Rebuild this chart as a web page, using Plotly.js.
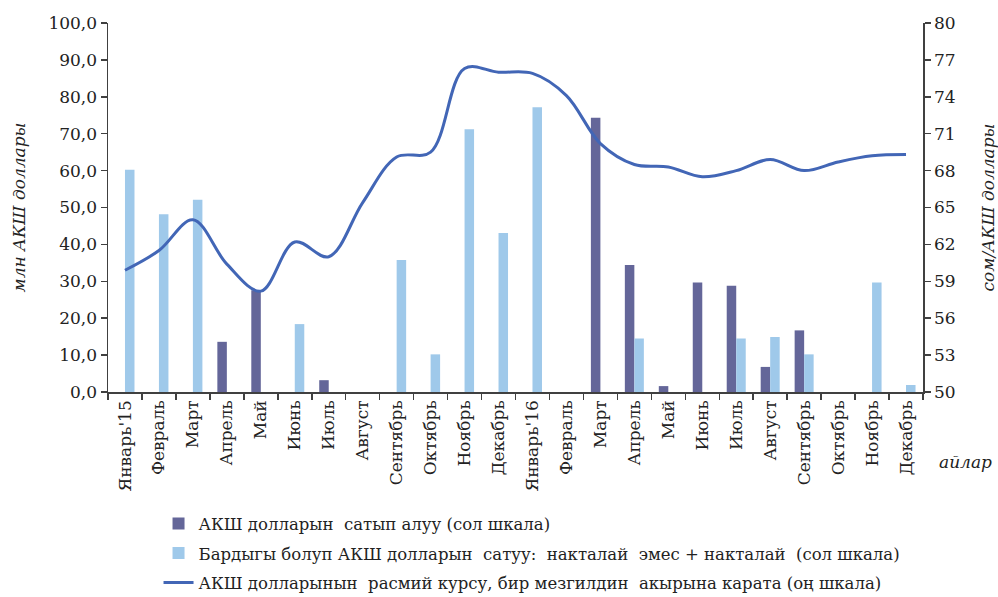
<!DOCTYPE html>
<html>
<head>
<meta charset="utf-8">
<script src="https://cdn.plot.ly/plotly-3.0.1.min.js"></script>
<style>html,body{margin:0;padding:0;background:#fff;}#chart{width:998px;height:597px;}</style>
</head>
<body>
<div id="chart"></div>
<script>
var months = ["Январь'15","Февраль","Март","Апрель","Май","Июнь","Июль","Август","Сентябрь","Октябрь","Ноябрь","Декабрь","Январь'16","Февраль","Март","Апрель","Май","Июнь","Июль","Август","Сентябрь","Октябрь","Ноябрь","Декабрь"];
var purchase = [null,null,null,13.6,27.6,null,3.2,null,null,null,null,null,null,null,74.3,34.4,1.6,29.7,28.8,6.8,16.7,null,null,null];
var sales = [60.2,48.2,52.1,null,null,18.4,null,null,35.8,10.2,71.2,43.1,77.2,null,null,14.5,null,null,14.5,14.9,10.2,null,29.7,1.9];
var rate = [59.9,61.5,64.0,60.4,58.2,62.2,61.0,65.4,69.1,69.5,76.3,76.0,75.9,74.1,70.2,68.5,68.3,67.5,68.0,68.9,68.0,68.7,69.2,69.3];
var names = ["АКШ долларын  сатып алуу (сол шкала)","Бардыгы болуп АКШ долларын  сатуу:  накталай  эмес + накталай  (сол шкала)","АКШ долларынын  расмий курсу, бир мезгилдин  акырына карата (оң шкала)"];
var leftTitle = "млн АКШ доллары";
var rightTitle = "сом/АКШ доллары";
var xTitle = "айлар";

var xs = months.map(function(_, i){ return i; });
var FONT = "DejaVu Serif";
var fs = 17;

var traces = [
  {type:'bar', x:xs, y:purchase, name:names[0], legendgroup:'g1', marker:{color:'#646699'}, yaxis:'y'},
  {type:'bar', x:xs, y:sales, name:names[1], legendgroup:'g2', marker:{color:'#9fc9ea'}, yaxis:'y'},
  {type:'scatter', mode:'lines', x:xs, y:rate, name:names[2], legendgroup:'g3', line:{color:'#4266b6', width:3, shape:'spline', smoothing:1}, yaxis:'y2'}
];

var layout = {
  width:998, height:597,
  margin:{l:108, r:75, t:23, b:205, autoexpand:false},
  paper_bgcolor:'#fff', plot_bgcolor:'#fff',
  separators:', ',
  font:{family:FONT, size:fs, color:'#222'},
  barmode:'group', bargap:0.44, bargroupgap:0,
  showlegend:true,
  legend:{x:0.062, y:-0.31, xanchor:'left', yanchor:'top', orientation:'v', font:{family:FONT, size:16.5, color:'#222'}, traceorder:'grouped', tracegroupgap:5, bgcolor:'rgba(0,0,0,0)'},
  xaxis:{
    range:[-0.5,23.5], tickmode:'array', tickvals:xs, ticktext:months, tickangle:-90,
    ticks:'', showgrid:false, zeroline:false, showline:true, linecolor:'#404040', linewidth:1.5,
    minor:{tick0:-0.5, dtick:1, ticks:'outside', ticklen:6, tickcolor:'#404040', tickwidth:1.5, showgrid:false},
    tickfont:{family:FONT, size:fs, color:'#222'}, fixedrange:true
  },
  yaxis:{
    range:[0,100], dtick:10, tick0:0, tickformat:'.1f', ticks:'outside', ticklen:6, tickcolor:'#404040', tickwidth:1.5,
    showgrid:false, zeroline:false, showline:true, linecolor:'#404040', linewidth:1.5,
    tickfont:{family:FONT, size:fs, color:'#222'},
    title:{text:leftTitle, font:{family:FONT, size:fs, color:'#222', style:'italic'}, standoff:18}
  },
  yaxis2:{
    range:[50,80], dtick:3, tick0:50, overlaying:'y', side:'right', ticks:'outside', ticklen:6, tickcolor:'#404040', tickwidth:1.5,
    showgrid:false, zeroline:false, showline:true, linecolor:'#404040', linewidth:1.5,
    tickfont:{family:FONT, size:fs, color:'#222'},
    title:{text:rightTitle, font:{family:FONT, size:fs, color:'#222', style:'italic'}, standoff:28}
  },
  annotations:[
    {text:xTitle, xref:'paper', yref:'paper', x:1.052, y:-0.19, xanchor:'center', yanchor:'middle', showarrow:false,
     font:{family:FONT, size:fs, color:'#222', style:'italic'}}
  ]
};
Plotly.newPlot('chart', traces, layout, {displayModeBar:false, staticPlot:true});
</script>
</body>
</html>
